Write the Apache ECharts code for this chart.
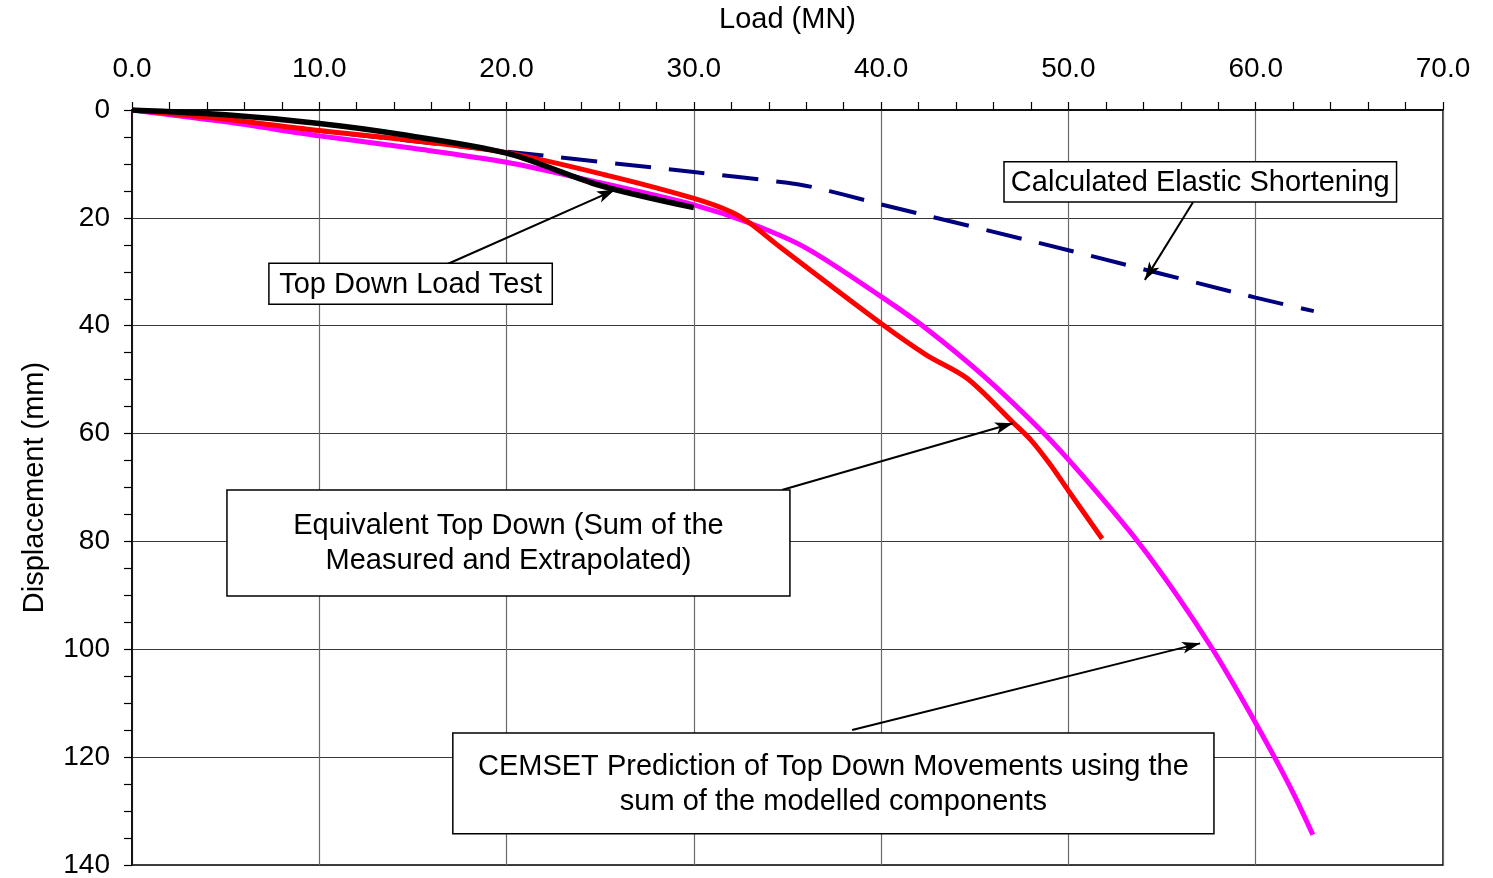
<!DOCTYPE html>
<html>
<head>
<meta charset="utf-8">
<script src="https://cdn.jsdelivr.net/npm/echarts@6/dist/echarts.min.js"></script>
<style>
html,body{margin:0;padding:0;background:#fff;}
#chart{width:1493px;height:878px;}
</style>
</head>
<body>
<div id="chart"></div>
<script>
// ---- Data (Load MN, Displacement mm) ----
const topDownLoadTest = [[0,0],[5,0.9],[10,2.5],[14.3,4.5],[20,8.0],[25,14.0],[30,18.1]];
const equivalentTopDown = [[0,0],[5,1.7],[10,3.8],[14.3,5.4],[20,7.9],[25.7,12.4],[30,16.4],[32,18.9],[33,21.0],[34.6,25.4],[40,39.6],[42.4,45.4],[44.6,49.8],[47,57.8],[48,61.2],[49,65.6],[50,70.6],[51.8,79.5]];
const cemsetPrediction = [[0,0],[5,2.2],[10,4.8],[15,7.1],[20,9.7],[25,13.5],[30,17.6],[33,21.0],[36,25.6],[40,34.6],[42.4,40.5],[45.5,49.4],[48.7,60.0],[50.8,68.0],[53.7,80.0],[55.8,90.0],[57.7,100.0],[59.4,110.0],[61.0,120.0],[62.05,127.0],[63.05,134.4]];
const elasticShortening = [[0,0],[20,7.7],[30,11.5],[35,13.5],[36.5,14.4],[38,15.7],[40,17.5],[50,26.0],[60,34.8],[63.1,37.3]];

// ---- Axis settings ----
const xMin = 0, xMax = 70, xStep = 10;
const yMin = 0, yMax = 140, yStep = 20;
const xAxisTitle = 'Load (MN)';
const yAxisTitle = 'Displacement (mm)';

// ---- Annotations (data coordinates) ----
const noteTexts = [
  'Top Down Load Test',
  'Calculated Elastic Shortening',
  'Equivalent Top Down (Sum of the\nMeasured and Extrapolated)',
  'CEMSET Prediction of Top Down Movements using the\nsum of the modelled components'
];
const noteBoxes = [
  [7.31, 28.4, 22.44, 36.0],
  [46.56, 9.59, 67.52, 17.08],
  [5.07, 70.46, 35.13, 90.1],
  [17.13, 115.5, 57.77, 134.2]
];
const noteArrows = [
  [[16.82, 28.6], [25.79, 14.8]],
  [[56.66, 17.06], [54.08, 31.5]],
  [[34.70, 70.46], [47.04, 58.1]],
  [[38.45, 114.96], [57.03, 98.9]]
];

const FONT = "'Liberation Sans', Arial, sans-serif";
const chart = echarts.init(document.getElementById('chart'));

const option = {
  animation: false,
  backgroundColor: '#fff',
  textStyle: { fontFamily: FONT },
  grid: { left: 132, right: 50, top: 110, bottom: 13, containLabel: false, outerBoundsMode: 'none',
    show: true, borderColor: '#000', borderWidth: 1.5, backgroundColor: 'transparent' },
  xAxis: {
    type: 'value', position: 'top', min: xMin, max: xMax, interval: xStep,
    name: xAxisTitle, nameLocation: 'middle', nameGap: 76,
    nameTextStyle: { fontSize: 29, color: '#000', fontFamily: FONT },
    axisLine: { show: true, lineStyle: { color: '#000', width: 1.5 } },
    axisTick: { show: true, inside: false, length: 8, lineStyle: { color: '#000', width: 1.2 } },
    minorTick: { show: true, splitNumber: 5, length: 8, lineStyle: { color: '#000', width: 1.2 } },
    axisLabel: { fontSize: 28, color: '#000', fontFamily: FONT, margin: 27, formatter: v => v.toFixed(1) },
    splitLine: { show: true, lineStyle: { color: '#6a6a6a', width: 1.2 } }
  },
  yAxis: {
    type: 'value', inverse: true, min: yMin, max: yMax, interval: yStep,
    name: yAxisTitle, nameLocation: 'middle', nameGap: 83, nameRotate: 90,
    nameTextStyle: { fontSize: 29, color: '#000', fontFamily: FONT },
    axisLine: { show: true, lineStyle: { color: '#000', width: 1.5 } },
    axisTick: { show: true, inside: false, length: 8, lineStyle: { color: '#000', width: 1.2 } },
    minorTick: { show: true, splitNumber: 4, length: 8, lineStyle: { color: '#000', width: 1.2 } },
    axisLabel: { fontSize: 28, color: '#000', fontFamily: FONT, margin: 22 },
    splitLine: { show: true, lineStyle: { color: '#3a3a3a', width: 1.2 } }
  },
  series: [
    { name: 'Calculated Elastic Shortening', type: 'line', data: elasticShortening, symbol: 'none', smooth: 0.2, z: 2,
      lineStyle: { color: '#00007f', width: 4, type: [36, 18] } },
    { name: 'CEMSET Prediction', type: 'line', data: cemsetPrediction, symbol: 'none', smooth: 0.3, z: 3,
      lineStyle: { color: '#ff00ff', width: 5 } },
    { name: 'Equivalent Top Down', type: 'line', data: equivalentTopDown, symbol: 'none', smooth: 0.3, z: 4,
      lineStyle: { color: '#ff0000', width: 5 } },
    { name: 'Top Down Load Test', type: 'line', data: topDownLoadTest, symbol: 'none', smooth: 0.3, z: 5,
      lineStyle: { color: '#000000', width: 5.5 } },
    { name: 'arrows', type: 'line', data: [], z: 6, silent: true,
      markLine: {
        silent: true, animation: false,
        symbol: ['none', 'arrow'], symbolSize: [9, 18],
        label: { show: false },
        lineStyle: { color: '#000', width: 2, type: 'solid' },
        emphasis: { disabled: true },
        data: noteArrows.map(a => [{ coord: a[0] }, { coord: a[1] }])
      }
    }
  ]
};
chart.setOption(option);

// Annotation boxes positioned from data coordinates
const graphics = [];
noteBoxes.forEach((b, i) => {
  const p0 = chart.convertToPixel({ gridIndex: 0 }, [b[0], b[1]]);
  const p1 = chart.convertToPixel({ gridIndex: 0 }, [b[2], b[3]]);
  const x = Math.min(p0[0], p1[0]), y = Math.min(p0[1], p1[1]);
  const w = Math.abs(p1[0] - p0[0]), h = Math.abs(p1[1] - p0[1]);
  graphics.push({
    type: 'rect', z: 100,
    shape: { x: x, y: y, width: w, height: h },
    style: { fill: '#fff', stroke: '#000', lineWidth: 1.5 }
  });
  graphics.push({
    type: 'text', z: 101,
    style: { text: noteTexts[i], x: x + w / 2, y: y + h / 2 + 1, fill: '#000', fontSize: 29, fontFamily: FONT,
      align: 'center', verticalAlign: 'middle', lineHeight: 35 }
  });
});
chart.setOption({ graphic: graphics });
</script>
</body>
</html>
